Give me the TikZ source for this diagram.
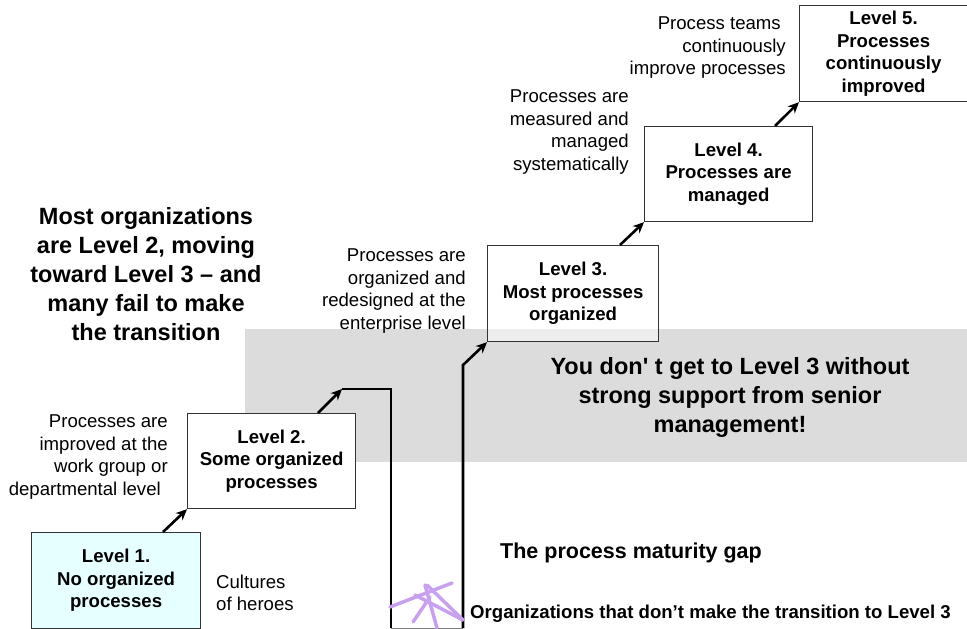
\documentclass[tikz,border=0pt]{standalone}
\usepackage{fontspec}
\setmainfont{Liberation Sans}[Ligatures=TeXOff]
\usetikzlibrary{arrows.meta}
\definecolor{bandgray}{HTML}{DCDCDC}
\definecolor{lvlone}{HTML}{E6FFFF}
\definecolor{scribble}{HTML}{C8A0F0}
\definecolor{edge}{HTML}{333333}
\begin{document}
\begin{tikzpicture}[x=1pt,y=-1pt,
  level/.style={draw=edge, line width=1.2pt, fill=white, anchor=north west,
    inner sep=0pt, align=center, font=\fontsize{18.6}{22.5}\selectfont\bfseries},
  stair arrow/.style={line width=2.6pt, -{Stealth[length=11pt,width=10pt]}},
  gapline/.style={line width=2.6pt},
  note/.style={inner sep=0pt, font=\fontsize{18.6}{22.5}\selectfont},
  bignote/.style={inner sep=0pt, align=center, font=\fontsize{23.5}{29}\selectfont\bfseries}
]
\useasboundingbox (0,0) rectangle (967,629);

% grey band behind the gap message
\fill[bandgray] (245,329) rectangle (967,462);

% the five maturity levels
\node[level, fill=lvlone, minimum width=169pt, minimum height=96pt] (l1) at (31,532)
  {Level 1.\\No organized\\processes};
\node[level, minimum width=168pt, minimum height=95pt] (l2) at (187,413)
  {Level 2.\\Some organized\\processes};
\node[level, fill opacity=0.5, text opacity=1, minimum width=171pt, minimum height=96pt] (l3) at (487,245)
  {Level 3.\\Most processes\\organized};
\node[level, minimum width=168pt, minimum height=95pt] (l4) at (644,126)
  {Level 4.\\Processes are\\managed};
\node[level, minimum width=168pt, minimum height=96pt] (l5) at (799,5)
  {Level 5.\\Processes\\continuously\\improved};

% gap walls
\coordinate (g1) at (342,389);
\coordinate (g2) at (391,389);
\coordinate (g3) at (391,628);
\coordinate (g4) at (463,628);
\coordinate (g5) at (463,365);

\draw[stair arrow] ([xshift=132pt]l1.north west) -- (l2.south west);
\draw[stair arrow] ([xshift=131pt]l2.north west) -- (g1);
\draw[gapline] (g1) -- (g2) -- (g3);
\draw[line width=0.8pt, gray] (g3) -- (g4);
\draw[stair arrow] (g4) -- (g5) -- (l3.south west);
\draw[stair arrow] ([xshift=133pt]l3.north west) -- (l4.south west);
\draw[stair arrow] ([xshift=131pt]l4.north west) -- (l5.south west);

% scribble at the foot of the gap
\begin{scope}[scribble, line width=3.5pt, line cap=round]
  \draw (390,607) -- (452,583);
  \draw (427,585) -- (463,620);
  \draw (425,585) -- (437,628);
  \draw (415,595) -- (463,620);
  \draw (413,622) -- (430,597);
\end{scope}

% descriptions of each level
\node[note, align=right, anchor=east] (d2) at (168,457)
  {Processes are\\improved at the\\work group or\hspace*{4pt}\\departmental level\hspace*{7pt}};
\node[note, align=left, anchor=west] (d1) at (216,593)
  {Cultures\\of heroes};
\node[note, align=right, anchor=east] (d3) at (466,291)
  {Processes are\\organized and\\redesigned at the\\enterprise level};
\node[note, align=right, anchor=east] (d4) at (629,132)
  {Processes are\\measured and\\managed\\systematically};
\node[note, align=right, anchor=east] (d5) at (786,48)
  {Process teams\hspace*{5pt}\\continuously\\improve processes};

% headline messages
\node[bignote] (m1) at (146,274)
  {Most organizations\\are Level 2, moving\\toward Level 3 – and\\many fail to make\\the transition};
\node[bignote] (m2) at (730,397)
  {You don' t get to Level 3 without\\strong support from senior\\management!};
\node[inner sep=0pt, anchor=west, font=\fontsize{21.5}{26}\selectfont\bfseries] (m3) at (500,553)
  {The process maturity gap};
\node[inner sep=0pt, anchor=west, font=\fontsize{18.6}{22.5}\selectfont\bfseries] (m4) at (470,614)
  {Organizations that don’t make the transition to Level 3};
\end{tikzpicture}
\end{document}
